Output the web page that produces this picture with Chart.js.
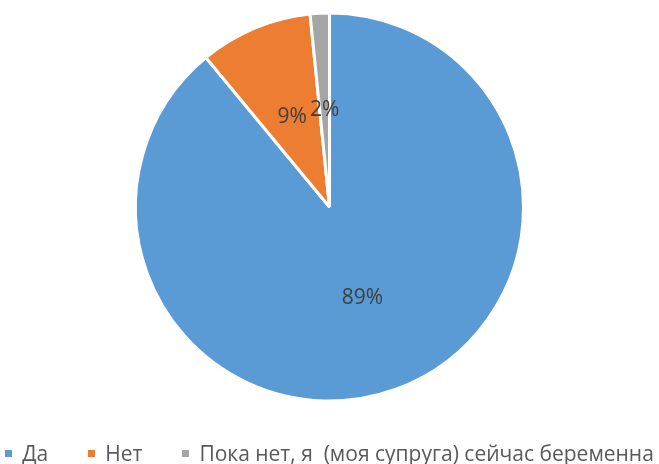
<!DOCTYPE html>
<html>
<head>
<meta charset="utf-8">
<script src="https://cdn.jsdelivr.net/npm/chart.js@4"></script>
<style>
  html, body { margin: 0; padding: 0; background: #fff; }
  #wrap { width: 659px; height: 464px; position: relative; }
  #legend {
    position: absolute; left: 0; right: 0; top: 439px;
    display: flex; justify-content: center; align-items: center;
    font-family: "Open Sans", sans-serif; font-size: 21px; color: #595959;
    white-space: pre;
  }
  .item { display: flex; align-items: center; margin: 0 20px; }
  .box { width: 7px; height: 7px; margin-right: 10px; }
</style>
</head>
<body>
<div id="wrap"><canvas id="pieChart"></canvas><div id="legend"></div></div>
<script>
const categories = ["Да", "Нет", "Пока нет, я  (моя супруга) сейчас беременна"];
const values = [89, 9.4, 1.6];
const valueLabels = ["89%", "9%", "2%"];
const colors = ["#5B9BD5", "#ED7D31", "#A5A5A5"];

// legend under the pie
const legendBox = document.getElementById("legend");
categories.forEach((name, i) => {
  const item = document.createElement("div");
  item.className = "item";
  item.innerHTML = `<span class="box" style="background:${colors[i]}"></span><span>${name}</span>`;
  legendBox.appendChild(item);
});

// percent labels in the middle of each slice
const sliceLabels = {
  id: "sliceLabels",
  afterDatasetsDraw(chart) {
    const ctx = chart.ctx;
    const meta = chart.getDatasetMeta(0);
    ctx.save();
    ctx.font = "21px 'Open Sans', sans-serif";
    ctx.fillStyle = "#404040";
    ctx.textAlign = "center";
    ctx.textBaseline = "middle";
    meta.data.forEach((arc, i) => {
      const p = arc.tooltipPosition();
      ctx.fillText(valueLabels[i], p.x, p.y);
    });
    ctx.restore();
  }
};

new Chart(document.getElementById("pieChart"), {
  type: "pie",
  data: {
    labels: categories,
    datasets: [{
      data: values,
      backgroundColor: colors,
      borderColor: "#ffffff",
      borderWidth: 3,
      radius: 194,
      clip: false
    }]
  },
  options: {
    responsive: true,
    maintainAspectRatio: false,
    animation: false,
    layout: { padding: { bottom: 50 } },
    plugins: {
      legend: { display: false },
      tooltip: { enabled: false }
    }
  },
  plugins: [sliceLabels]
});
</script>
</body>
</html>
